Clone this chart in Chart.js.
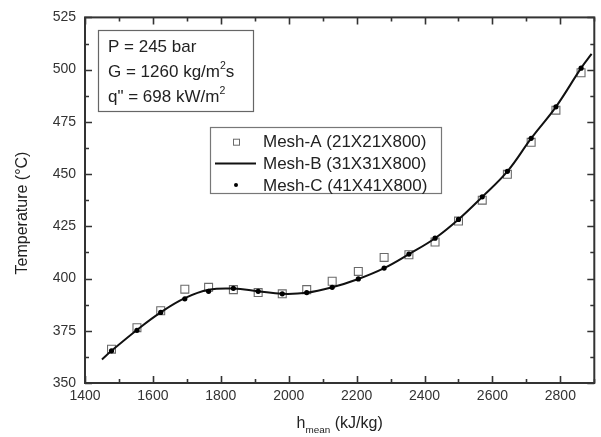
<!DOCTYPE html>
<html><head><meta charset="utf-8">
<script src="https://cdn.jsdelivr.net/npm/chart.js@4/dist/chart.umd.min.js"></script>
<style>html,body{margin:0;padding:0;background:#fff;}</style>
</head><body>
<canvas id="c" width="601" height="437" style="display:block;width:601px;height:437px"></canvas>
<script>
// ---- data ----
const hMeshA = [1478,1553,1623,1694,1764,1837,1910,1981,2053,2128,2205,2281,2354,2431,2500,2570,2644,2714,2787,2861];
const tMeshA = [366.2,376.5,384.6,394.9,395.8,394.7,393.3,392.7,394.7,398.7,403.4,410.1,411.4,417.5,427.5,437.5,449.9,465.2,480.6,498.5];
const hMeshB = [1450,1478,1553,1623,1694,1764,1837,1910,1981,2053,2128,2205,2281,2354,2431,2500,2570,2644,2714,2787,2861,2892];
const tMeshB = [361.3,365.4,375.4,383.8,390.6,394.6,395.2,393.9,392.7,393.2,395.8,399.8,405.0,411.7,419.3,428.3,439.1,451.3,467.1,482.2,500.7,507.5];
const hMeshC = [1478,1553,1623,1694,1764,1837,1910,1981,2053,2128,2205,2281,2354,2431,2500,2570,2644,2714,2787,2861];
const tMeshC = [365.4,375.2,383.8,390.3,393.9,395.3,393.9,392.7,393.3,395.8,399.8,405.0,411.7,419.3,428.3,439.1,451.3,467.1,482.2,500.7];
const seriesLabels = ['Mesh-A (21X21X800)','Mesh-B (31X31X800)','Mesh-C (41X41X800)'];
const xTickValues = [1400,1600,1800,2000,2200,2400,2600,2800];
const yTickValues = [350,375,400,425,450,475,500,525];
const infoLines = [
  [{t:'P = 245 bar'}],
  [{t:'G = 1260 kg/m'},{t:'2',sup:true},{t:'s'}],
  [{t:'q" = 698 kW/m'},{t:'2',sup:true}]
];
const xTitle = [{t:'h'},{t:'mean',sub:true},{t:' (kJ/kg)'}];
const yTitle = 'Temperature (\u00B0C)';

const FONT = "'Liberation Sans', Arial, sans-serif";
const TXT = '#222';
const AX = '#333';

function pts(xs, ys){ return xs.map((x,i)=>({x:x, y:ys[i]})); }

function richWidth(ctx, parts, size){
  let w=0;
  for(const p of parts){
    const s = (p.sup||p.sub) ? size*0.62 : size;
    ctx.font = s+'px '+FONT;
    w += ctx.measureText(p.t).width;
  }
  return w;
}
function drawRich(ctx, parts, x, y, size){
  ctx.textBaseline='alphabetic';
  ctx.textAlign='left';
  let cx=x;
  for(const p of parts){
    const s = (p.sup||p.sub) ? size*0.62 : size;
    ctx.font = s+'px '+FONT;
    const dy = p.sup ? -size*0.45 : (p.sub ? size*0.3 : 0);
    ctx.fillText(p.t, cx, y+dy);
    cx += ctx.measureText(p.t).width;
  }
}

const decor = {
  id:'decor',
  afterDatasetsDraw(chart){
    const ctx=chart.ctx, a=chart.chartArea;
    const xs=chart.scales.x, ys=chart.scales.y;
    ctx.save();
    ctx.strokeStyle=AX; ctx.lineWidth=1.6;
    // ticks inward
    ctx.beginPath();
    for(let v=xs.min; v<=xs.max; v+=100){
      const px=Math.round(xs.getPixelForValue(v))+0.5;
      const L = (v%200===0)?7:4;
      ctx.moveTo(px,a.bottom); ctx.lineTo(px,a.bottom-L);
      ctx.moveTo(px,a.top); ctx.lineTo(px,a.top+L);
    }
    for(let v=ys.min; v<=ys.max; v+=12.5){
      const py=Math.round(ys.getPixelForValue(v))+0.5;
      const L = (v%25===0)?7:4;
      ctx.moveTo(a.left,py); ctx.lineTo(a.left+L,py);
      ctx.moveTo(a.right,py); ctx.lineTo(a.right-L,py);
    }
    ctx.stroke();
    ctx.lineWidth=2;
    ctx.strokeRect(a.left, a.top, a.right-a.left, a.bottom-a.top);

    // info box
    ctx.fillStyle='#fff';
    ctx.strokeStyle='#666'; ctx.lineWidth=1.2;
    ctx.fillRect(98,30,155,81);
    ctx.strokeRect(98.5,30.5,155,81);
    ctx.fillStyle=TXT;
    infoLines.forEach((ln,i)=>drawRich(ctx, ln, 108, 52+i*25, 17));

    // legend
    const lx=210, ly=127, lw=231, lh=66;
    ctx.fillStyle='#fff'; ctx.fillRect(lx,ly,lw,lh);
    ctx.strokeStyle='#777'; ctx.lineWidth=1.2;
    ctx.strokeRect(lx+0.5,ly+0.5,lw,lh);
    const ds=chart.data.datasets;
    ds.forEach((d,i)=>{
      const cy = 141.7 + i*21.7;
      const sx = 236;
      if(d.showLine===false){
        if(d.pointStyle==='rect'){
          ctx.strokeStyle=d.borderColor; ctx.lineWidth=1;
          ctx.strokeRect(sx-2.5, cy-2.5, 6, 6);
        } else {
          ctx.fillStyle=d.backgroundColor;
          ctx.beginPath(); ctx.arc(sx, cy, 2, 0, Math.PI*2); ctx.fill();
        }
      } else {
        ctx.strokeStyle=d.borderColor; ctx.lineWidth=2;
        ctx.beginPath(); ctx.moveTo(215,cy); ctx.lineTo(256,cy); ctx.stroke();
      }
      ctx.fillStyle=TXT;
      ctx.font='17px '+FONT;
      ctx.textBaseline='middle'; ctx.textAlign='left';
      ctx.fillText(d.label, 263, cy+1);
    });

    // x title
    const w = richWidth(ctx, xTitle, 16);
    const cxm = (a.left+a.right)/2;
    ctx.fillStyle=TXT;
    drawRich(ctx, xTitle, cxm - w/2, 428, 16);
    // y title
    ctx.save();
    ctx.translate(23, 213);
    ctx.rotate(-Math.PI/2);
    ctx.font='16px '+FONT;
    ctx.textAlign='center'; ctx.textBaseline='middle';
    ctx.fillText(yTitle, 0, 0);
    ctx.restore();
    ctx.restore();
  }
};

new Chart(document.getElementById('c'), {
  type:'scatter',
  data:{ datasets:[
    { label:seriesLabels[0], data:pts(hMeshA,tMeshA), showLine:false, pointStyle:'rect',
      pointRadius:5.6, pointHoverRadius:5.6, borderColor:'#6a6a6a', backgroundColor:'rgba(0,0,0,0)', borderWidth:1.1, order:2 },
    { label:seriesLabels[1], data:pts(hMeshB,tMeshB), showLine:true, pointRadius:0, pointHoverRadius:0,
      borderColor:'#111', backgroundColor:'#111', borderWidth:2, tension:0.4, fill:false, order:1 },
    { label:seriesLabels[2], data:pts(hMeshC,tMeshC), showLine:false, pointStyle:'circle',
      pointRadius:2.6, pointHoverRadius:2.6, borderColor:'#000', backgroundColor:'#000', borderWidth:0, order:0 }
  ]},
  options:{
    responsive:false, animation:false, devicePixelRatio:1,
    layout:{ padding:{ top:15, right:2, left:0, bottom:0 } },
    plugins:{ legend:{display:false}, tooltip:{enabled:false} },
    scales:{
      x:{ type:'linear', min:1400, max:2900,
        grid:{display:false, drawTicks:false}, border:{display:false},
        afterBuildTicks(s){ s.ticks = xTickValues.map(v=>({value:v})); },
        afterFit(s){ s.height = 54; },
        ticks:{ font:{size:14, family:FONT}, color:AX, padding:5, maxRotation:0, callback:v=>String(v) } },
      y:{ type:'linear', min:350, max:525,
        grid:{display:false, drawTicks:false}, border:{display:false},
        afterBuildTicks(s){ s.ticks = yTickValues.map(v=>({value:v})); },
        afterFit(s){ s.width = 85; },
        ticks:{ font:{size:14, family:FONT}, color:AX, padding:9, callback:v=>String(v) } }
    }
  },
  plugins:[decor]
});
</script>
</body></html>
